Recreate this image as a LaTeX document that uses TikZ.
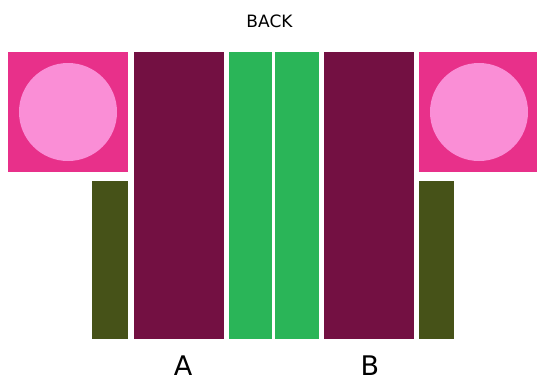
\documentclass[tikz,border=0pt]{standalone}
\usepackage{fontspec}
\setmainfont{DejaVu Sans}
\definecolor{pinkbox}{RGB}{232,48,138}
\definecolor{pinkdot}{RGB}{250,142,214}
\definecolor{maroon}{RGB}{115,16,66}
\definecolor{grn}{RGB}{42,181,88}
\definecolor{olive}{RGB}{70,82,24}
\begin{document}
\begin{tikzpicture}[x=1pt,y=-1pt,
  lbl/.style={inner sep=0pt,anchor=base}]
\useasboundingbox (0,0) rectangle (537,381);
% left pink square with circle
\fill[pinkbox] (8,52) rectangle (128,172);
\fill[pinkdot] (68,112) circle (49);
% right pink square with circle
\fill[pinkbox] (419,52) rectangle (537,172);
\fill[pinkdot] (479,112) circle (49);
% maroon A and B
\fill[maroon] (134,52) rectangle (224,339);
\fill[maroon] (324,52) rectangle (414,339);
% greens
\fill[grn] (229,52) rectangle (272,339);
\fill[grn] (275,52) rectangle (319,339);
% olives
\fill[olive] (92,181) rectangle (128,339);
\fill[olive] (419,181) rectangle (454,339);
% labels
\node[lbl] (back) at (269.5,27) {\fontsize{17}{20}\selectfont BACK};
\node[lbl] (la) at (183,375) {\fontsize{27}{30}\selectfont A};
\node[lbl] (lb) at (370,375) {\fontsize{27}{30}\selectfont B};
\end{tikzpicture}
\end{document}
